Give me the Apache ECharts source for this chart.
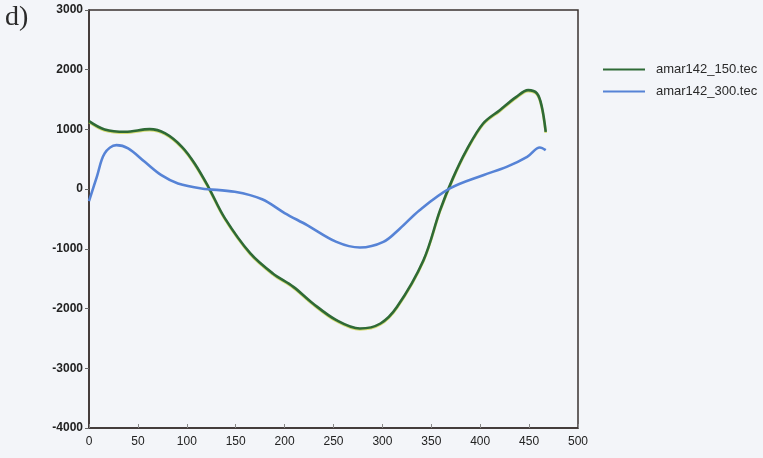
<!DOCTYPE html>
<html><head><meta charset="utf-8">
<script src="https://cdn.jsdelivr.net/npm/echarts@6/dist/echarts.min.js"></script>
<style>html,body{margin:0;padding:0;background:#f3f5f9;}#c{width:763px;height:458px;}</style>
</head><body><div id="c"></div>
<script>
const seriesNames = ['amar142_150.tec', 'amar142_300.tec'];
const xTicks = [0, 50, 100, 150, 200, 250, 300, 350, 400, 450, 500];
const yTicks = [-4000, -3000, -2000, -1000, 0, 1000, 2000, 3000];
const x150 = [0, 16, 37, 62, 78, 95, 108, 122, 139, 165, 188, 209, 229, 253, 277, 298, 315, 342, 359, 372, 386, 403, 420, 437, 449, 458, 463, 467];
const y150 = [1140, 1000, 960, 1005, 933, 709, 430, 40, -490, -1077, -1412, -1636, -1915, -2194, -2334, -2250, -1971, -1190, -352, 180, 653, 1100, 1323, 1546, 1658, 1603, 1379, 960];
const x300 = [0, 8, 16, 28, 40, 57, 74, 91, 115, 149, 177, 200, 223, 253, 277, 301, 318, 338, 369, 403, 427, 448, 461, 467];
const y300 = [-200, 206, 598, 737, 682, 457, 234, 95, 12, -45, -170, -400, -603, -883, -977, -883, -658, -352, 12, 234, 373, 541, 698, 653];

const pair = (xs, ys) => xs.map((x, i) => [x, ys[i]]);
const chart = echarts.init(document.getElementById('c'), null, {renderer: 'canvas'});
const axisColor = '#3a3230';
chart.setOption({
  backgroundColor: '#f3f5f9',
  animation: false,
  graphic: [{type: 'text', left: 5, top: 4, style: {text: 'd)', font: '28px "Liberation Serif", "DejaVu Serif", serif', fill: '#2a2a2a'}}],
  grid: {left: 89, right: 185, top: 10, bottom: 30, show: true, borderColor: axisColor, borderWidth: 1.5, backgroundColor: 'transparent'},
  legend: {
    orient: 'vertical', left: 598, top: 58, itemGap: 9, itemWidth: 42, itemHeight: 14,
    icon: 'path://M0,6 L42,6 L42,8 L0,8 Z',
    textStyle: {fontFamily: 'Liberation Sans, Arial, sans-serif', fontSize: 13, color: '#2a2a2a', padding: [0, 0, 0, 6]},
    data: seriesNames
  },
  xAxis: {
    type: 'value', min: 0, max: 500, interval: 50,
    axisLine: {show: true, onZero: false, lineStyle: {color: axisColor, width: 1.5}},
    axisTick: {show: true, inside: true, length: 4, lineStyle: {color: '#888'}},
    splitLine: {show: false},
    axisLabel: {color: '#222', fontFamily: 'Liberation Sans, Arial, sans-serif', fontSize: 12, margin: 8,
      formatter: v => xTicks.includes(v) ? String(v) : ''}
  },
  yAxis: {
    type: 'value', min: -4000, max: 3000, interval: 1000,
    axisLine: {show: true, onZero: false, lineStyle: {color: axisColor, width: 1.5}},
    axisTick: {show: true, inside: false, length: 4, lineStyle: {color: '#666'}},
    splitLine: {show: false},
    axisLabel: {color: '#222', fontFamily: 'Liberation Sans, Arial, sans-serif', fontSize: 12, fontWeight: 'bold', margin: 6,
      formatter: v => yTicks.includes(v) ? String(v) : ''}
  },
  series: [
    {name: seriesNames[0], type: 'line', data: pair(x150, y150), smooth: 0.35, showSymbol: false,
      lineStyle: {color: '#2e6a36', width: 2.6, shadowColor: 'rgba(200,210,60,0.7)', shadowBlur: 0, shadowOffsetY: 1}, itemStyle: {color: '#2e6a36'}},
    {name: seriesNames[1], type: 'line', data: pair(x300, y300), smooth: 0.35, showSymbol: false,
      lineStyle: {color: '#5683d6', width: 2.6}, itemStyle: {color: '#5683d6'}}
  ]
});
</script></body></html>
